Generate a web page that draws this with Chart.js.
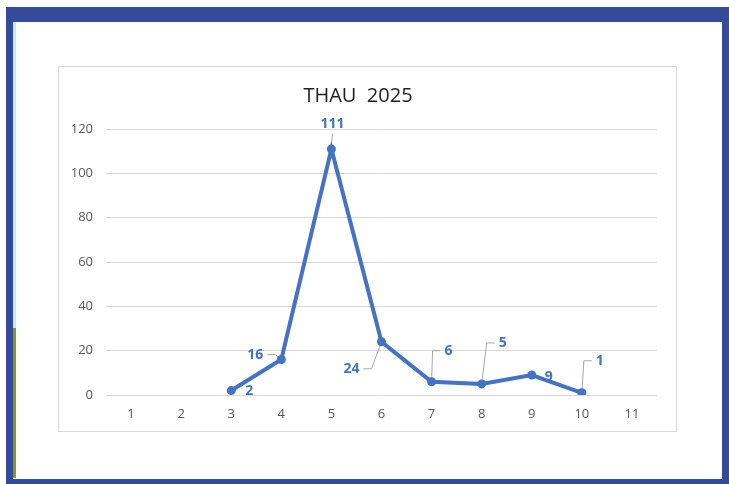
<!DOCTYPE html>
<html>
<head>
<meta charset="utf-8">
<script src="https://cdn.jsdelivr.net/npm/chart.js@4.4.1/dist/chart.umd.min.js"></script>
<style>
  body { margin: 0; width: 729px; height: 484px; background: #fff; position: relative; overflow: hidden; }
  #frame { position: absolute; left: 6px; top: 7px; width: 723px; height: 477px; background: #344b9c; }
  #inner { position: absolute; left: 13px; top: 22px; width: 709px; height: 457px; background: #fff; }
  #strip-a { position: absolute; left: 13px; top: 22px; width: 3px; height: 306px; background: #c9ecfa; }
  #strip-b { position: absolute; left: 13px; top: 328px; width: 3px; height: 150px; background: #8a9a10; }
  #box { position: absolute; left: 58px; top: 66px; width: 617px; height: 364px; border: 1px solid #d9d9d9; background: #fff; }
</style>
</head>
<body>
<div id="frame"></div>
<div id="inner"></div>
<div id="strip-a"></div>
<div id="strip-b"></div>
<div id="box"><canvas id="chart-thau" width="617" height="364"></canvas></div>
<script>
const months = ['1', '2', '3', '4', '5', '6', '7', '8', '9', '10', '11'];
const thauValues = [null, null, 2, 16, 111, 24, 6, 5, 9, 1, null];
const yTicks = [0, 20, 40, 60, 80, 100, 120];

// where each data label sits relative to its point, and whether it gets a leader line
const labelOffsets = [null, null, [18, 0, false], [-26, -5, true], [1, -25, true], [-30, 27, true], [17, -31, true], [21, -41, true], [17, 2, false], [18, -32, true], null];

const blue = '#4472C4';

const labelPlugin = {
    id: 'thauLabels',
    beforeDatasetsDraw(chart) {
        drawLabels(chart, true);
    },
    afterDatasetsDraw(chart) {
        drawLabels(chart, false);
    }
};

function drawLabels(chart, leaders) {
    const ctx = chart.ctx;
    const meta = chart.getDatasetMeta(0);
    ctx.save();
    ctx.font = 'bold 14px "Open Sans"';
    meta.data.forEach(function (pt, i) {
        const off = labelOffsets[i];
        if (!off || thauValues[i] === null) return;
        const text = String(thauValues[i]);
        const lx = pt.x + off[0];
        const ly = pt.y + off[1];
        const w = ctx.measureText(text).width;
        if (leaders) {
            if (!off[2]) return;
            ctx.strokeStyle = '#a6a6a6';
            ctx.lineWidth = 1;
            ctx.beginPath();
            if (Math.abs(off[0]) < w / 2) {
                ctx.moveTo(lx, ly + 10);
                ctx.lineTo(pt.x, pt.y - 3);
            } else {
                const side = off[0] > 0 ? -1 : 1;
                const sx = lx + side * (w / 2 + 4);
                ctx.moveTo(sx, ly);
                ctx.lineTo(sx + side * 8, ly);
                ctx.lineTo(pt.x, pt.y);
            }
            ctx.stroke();
        } else {
            ctx.fillStyle = blue;
            ctx.textAlign = 'center';
            ctx.textBaseline = 'middle';
            ctx.fillText(text, lx, ly);
        }
    });
    ctx.restore();
}

new Chart(document.getElementById('chart-thau'), {
    type: 'line',
    data: {
        labels: months,
        datasets: [{
            data: thauValues,
            borderColor: blue,
            backgroundColor: blue,
            borderWidth: 4,
            pointRadius: 4.5,
            pointBackgroundColor: blue,
            pointBorderWidth: 0,
            tension: 0,
            spanGaps: false
        }]
    },
    options: {
        responsive: false,
        animation: false,
        events: [],
        layout: {
            padding: { left: 0, right: 19, top: 0, bottom: 0 }
        },
        plugins: {
            legend: { display: false },
            tooltip: { enabled: false },
            title: {
                display: true,
                text: 'THAU  2025',
                color: '#1f1f1f',
                font: { family: '"Open Sans"', size: 20, weight: 'normal' },
                padding: { top: 17, bottom: 21 }
            }
        },
        scales: {
            x: {
                offset: true,
                grid: { display: false, drawTicks: false },
                border: { display: false },
                ticks: {
                    color: '#595959',
                    font: { family: '"Open Sans"', size: 13 },
                    padding: 11,
                    maxRotation: 0
                },
                afterFit(scale) { scale.height = 36; }
            },
            y: {
                min: 0,
                max: 120,
                afterBuildTicks(scale) { scale.ticks = yTicks.map(v => ({ value: v })); },
                grid: { color: '#d9d9d9', lineWidth: 1, drawTicks: false },
                border: { display: false },
                ticks: {
                    color: '#595959',
                    font: { family: '"Open Sans"', size: 13 },
                    padding: 13
                },
                afterFit(scale) { scale.width = 47; }
            }
        }
    },
    plugins: [labelPlugin]
});
</script>
</body>
</html>
